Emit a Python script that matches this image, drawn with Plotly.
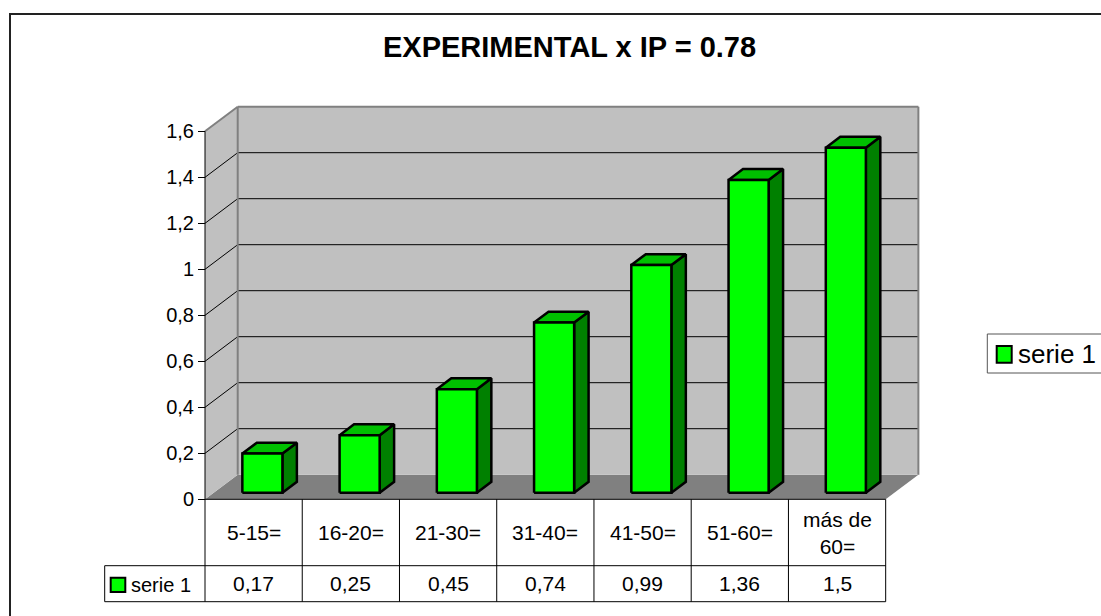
import plotly.graph_objects as go

# ---- data ----
categories = ["5-15=", "16-20=", "21-30=", "31-40=", "41-50=", "51-60=", "más de<br>60="]
values = [0.17, 0.25, 0.45, 0.74, 0.99, 1.36, 1.5]
series_name = "serie 1"
y_ticks = [0, 0.2, 0.4, 0.6, 0.8, 1.0, 1.2, 1.4, 1.6]
title_text = "EXPERIMENTAL x IP = 0.78"

# ---- geometry of the 3-D frame (pixels of the 1101x616 canvas) ----
W, H = 1101, 616
AXIS_LEFT_PX = 205.0     # front-left corner of the floor
ZERO_PX = 499.3          # front baseline
CAT_PX = 97.24           # width of one category
UNIT_PX = 230.0          # pixels per value unit
DX = 32.7 / CAT_PX       # depth offset, category units
DY = 24.6 / UNIT_PX      # depth offset, value units
BAR_HALF = 0.206         # half bar width, category units
F_FRONT, F_BACK = 0.268, 0.71   # bar position inside the depth
Y_MAX = y_ticks[-1]
N = len(categories)

x_lo = -0.5 - AXIS_LEFT_PX / CAT_PX
x_hi = x_lo + W / CAT_PX
y_hi = ZERO_PX / UNIT_PX
y_lo = y_hi - H / UNIT_PX


def px_x(p):
    return x_lo + p / CAT_PX


def px_y(p):
    return y_hi - p / UNIT_PX


def fmt(v):
    return ("%g" % v).replace(".", ",")


FONT = "Liberation Sans, Arial, sans-serif"
GREEN, GREEN_TOP, GREEN_SIDE = "#00FF00", "#00C000", "#008000"
WALL, FLOOR, EDGE = "#C0C0C0", "#808080", "#808080"

# ---- bar faces ----
faces = {"side": ([], []), "top": ([], []), "front": ([], [])}


def add_poly(key, pts):
    xs, ys = faces[key]
    for px, py in pts + [pts[0]]:
        xs.append(px)
        ys.append(py)
    xs.append(None)
    ys.append(None)


ox0, oy0 = F_FRONT * DX, F_FRONT * DY
ox1, oy1 = F_BACK * DX, F_BACK * DY
for i, v in enumerate(values):
    xl, xr = i - BAR_HALF, i + BAR_HALF
    add_poly("front", [(xl + ox0, oy0), (xr + ox0, oy0), (xr + ox0, v + oy0), (xl + ox0, v + oy0)])
    add_poly("top", [(xl + ox0, v + oy0), (xr + ox0, v + oy0), (xr + ox1, v + oy1), (xl + ox1, v + oy1)])
    add_poly("side", [(xr + ox0, oy0), (xr + ox1, oy1), (xr + ox1, v + oy1), (xr + ox0, v + oy0)])

fig = go.Figure()
for key, color in (("side", GREEN_SIDE), ("top", GREEN_TOP), ("front", GREEN)):
    xs, ys = faces[key]
    fig.add_trace(go.Scatter(
        x=xs, y=ys, mode="lines", fill="toself", fillcolor=color,
        line=dict(color="black", width=2.5), hoverinfo="skip",
        showlegend=False, name=series_name,
    ))

shapes = []


def path(pts):
    return "M " + " L ".join("%f,%f" % p for p in pts) + " Z"


# floor
shapes.append(dict(type="path", xref="x", yref="y", layer="below",
                   path=path([(-0.5, 0), (N - 0.5, 0), (N - 0.5 + DX, DY), (-0.5 + DX, DY)]),
                   fillcolor=FLOOR, line=dict(width=0)))
# left wall
shapes.append(dict(type="path", xref="x", yref="y", layer="below",
                   path=path([(-0.5, 0), (-0.5 + DX, DY), (-0.5 + DX, Y_MAX + DY), (-0.5, Y_MAX)]),
                   fillcolor=WALL, line=dict(width=0)))
# back wall
shapes.append(dict(type="rect", xref="x", yref="y", layer="below",
                   x0=-0.5 + DX, x1=N - 0.5 + DX, y0=DY, y1=Y_MAX + DY,
                   fillcolor=WALL, line=dict(width=0)))
# gridlines on back and left walls
for t in y_ticks[1:-1]:
    shapes.append(dict(type="line", xref="x", yref="y", layer="below",
                       x0=-0.5 + DX, x1=N - 0.5 + DX, y0=t + DY, y1=t + DY,
                       line=dict(color="black", width=1)))
    shapes.append(dict(type="line", xref="x", yref="y", layer="below",
                       x0=-0.5, x1=-0.5 + DX, y0=t, y1=t + DY,
                       line=dict(color="black", width=1)))
# wall edges
for seg in [((-0.5, Y_MAX), (-0.5 + DX, Y_MAX + DY)),
            ((-0.5 + DX, Y_MAX + DY), (N - 0.5 + DX, Y_MAX + DY)),
            ((-0.5 + DX, DY), (-0.5 + DX, Y_MAX + DY)),
            ((N - 0.5 + DX, DY), (N - 0.5 + DX, Y_MAX + DY))]:
    shapes.append(dict(type="line", xref="x", yref="y", layer="below",
                       x0=seg[0][0], y0=seg[0][1], x1=seg[1][0], y1=seg[1][1],
                       line=dict(color=EDGE, width=2)))
# front value axis line
shapes.append(dict(type="line", xref="x", yref="y", x0=-0.5, x1=-0.5, y0=0, y1=Y_MAX,
                   line=dict(color="black", width=1)))

# ---- data table ----
row1 = px_y(565.7)
row2 = px_y(601.7)
key_left = px_x(104.7)
tbl = dict(color="black", width=1)
shapes.append(dict(type="line", xref="x", yref="y", x0=-0.5, x1=N - 0.5, y0=0, y1=0, line=tbl))
shapes.append(dict(type="line", xref="x", yref="y", x0=key_left, x1=N - 0.5, y0=row1, y1=row1, line=tbl))
shapes.append(dict(type="line", xref="x", yref="y", x0=key_left, x1=N - 0.5, y0=row2, y1=row2, line=tbl))
shapes.append(dict(type="line", xref="x", yref="y", x0=key_left, x1=key_left, y0=row1, y1=row2, line=tbl))
for k in range(N + 1):
    shapes.append(dict(type="line", xref="x", yref="y", x0=k - 0.5, x1=k - 0.5, y0=0, y1=row2, line=tbl))
# table legend key
shapes.append(dict(type="rect", xref="x", yref="y",
                   x0=px_x(110.7), x1=px_x(125.3), y0=px_y(592), y1=px_y(577.7),
                   fillcolor=GREEN, line=dict(color="black", width=2)))

annotations = []
for i, c in enumerate(categories):
    annotations.append(dict(x=i, y=px_y(532.5), xref="x", yref="y", text=c, showarrow=False,
                            font=dict(family=FONT, size=21, color="black"),
                            xanchor="center", yanchor="middle"))
for i, v in enumerate(values):
    annotations.append(dict(x=i, y=px_y(583.2), xref="x", yref="y", text=fmt(v), showarrow=False,
                            font=dict(family=FONT, size=21, color="black"),
                            xanchor="center", yanchor="middle"))
annotations.append(dict(x=px_x(129), y=px_y(584.5), xref="x", yref="y", text=series_name,
                        showarrow=False, font=dict(family=FONT, size=20, color="black"),
                        xanchor="left", yanchor="middle"))

# ---- legend on the right ----
shapes.append(dict(type="rect", xref="paper", yref="paper",
                   x0=987.3 / W, x1=1.05, y0=1 - 373 / H, y1=1 - 334 / H,
                   fillcolor="white", line=dict(color="#555555", width=1)))
shapes.append(dict(type="rect", xref="paper", yref="paper",
                   x0=996.7 / W, x1=1011.7 / W, y0=1 - 362.7 / H, y1=1 - 346 / H,
                   fillcolor=GREEN, line=dict(color="black", width=2)))
annotations.append(dict(x=1016 / W, y=1 - 354 / H, xref="paper", yref="paper", text=series_name,
                        showarrow=False, font=dict(family=FONT, size=26, color="black"),
                        xanchor="left", yanchor="middle"))

# ---- title ----
annotations.append(dict(x=569.2 / W, y=1 - 46.5 / H, xref="paper", yref="paper",
                        text="<b>%s</b>" % title_text, showarrow=False,
                        font=dict(family=FONT, size=29, color="black"),
                        xanchor="center", yanchor="middle"))

# ---- outer chart border ----
shapes.append(dict(type="rect", xref="paper", yref="paper",
                   x0=10 / W, x1=1.05, y0=-0.05, y1=1 - 14 / H,
                   fillcolor="rgba(0,0,0,0)", line=dict(color="#222222", width=2)))

fig.update_layout(
    width=W, height=H,
    margin=dict(l=0, r=0, t=0, b=0),
    paper_bgcolor="white", plot_bgcolor="white",
    showlegend=False,
    xaxis=dict(range=[x_lo, x_hi], visible=False, fixedrange=True),
    yaxis=dict(range=[y_lo, y_hi], anchor="free", position=AXIS_LEFT_PX / W,
               tickvals=y_ticks, ticktext=[fmt(t) for t in y_ticks],
               ticks="outside", ticklen=7, tickcolor="black", tickwidth=1,
               showgrid=False, zeroline=False, showline=False, fixedrange=True,
               tickfont=dict(family=FONT, size=20, color="black"), ticklabelstandoff=0),
    shapes=shapes,
    annotations=annotations,
)

fig.write_html("out.html", config={"displayModeBar": False})
